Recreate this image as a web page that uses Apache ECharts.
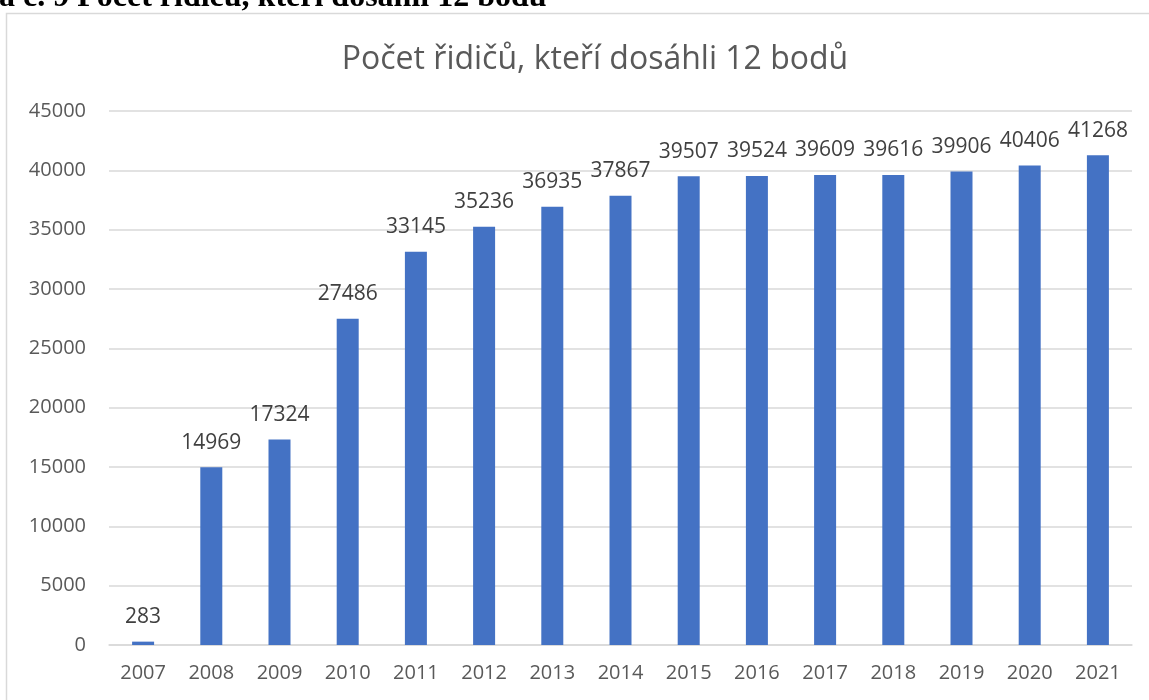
<!DOCTYPE html>
<html><head><meta charset="utf-8">
<script src="https://cdn.jsdelivr.net/npm/echarts@6/dist/echarts.min.js"></script>
<style>html,body{margin:0;padding:0;background:#fff;overflow:hidden}#c{width:1149px;height:700px}</style>
</head><body><div id="c"></div>
<script>
const years = ['2007','2008','2009','2010','2011','2012','2013','2014','2015','2016','2017','2018','2019','2020','2021'];
const drivers = [283,14969,17324,27486,33145,35236,36935,37867,39507,39524,39609,39616,39906,40406,41268];
const titleText = 'Počet řidičů, kteří dosáhli 12 bodů';
const headerText = 'a č. 9 Počet řidičů, kteří dosáhli 12 bodů';

const chart = echarts.init(document.getElementById('c'));
chart.setOption({
  animation: false,
  title: { text: titleText, left: 590, top: 39, textAlign: 'center',
    textStyle: { fontFamily: 'Open Sans', fontSize: 32, fontWeight: 'normal', color: '#595959' } },
  graphic: [
    { type: 'rect', shape: { x: 6.5, y: 13.5, width: 1200, height: 720 }, style: { fill: 'none', stroke: '#d9d9d9', lineWidth: 1.5 }, z: -1 },
    { type: 'text', x: -1, y: -2, style: { text: headerText, fontFamily: 'Liberation Serif', fontWeight: 'bold', fontSize: 32, fill: '#000', verticalAlign: 'middle' } }
  ],
  grid: { left: 109, right: 17, top: 111, bottom: 55, containLabel: false },
  xAxis: { type: 'category', data: years,
    axisLine: { lineStyle: { color: '#d9d9d9', width: 1.5 } }, axisTick: { show: false },
    axisLabel: { fontFamily: 'Open Sans', fontSize: 20, color: '#595959', margin: 18 } },
  yAxis: { type: 'value', min: 0, max: 45000, interval: 5000,
    axisLine: { show: false }, axisTick: { show: false },
    splitLine: { lineStyle: { color: '#d9d9d9', width: 1.5 } },
    axisLabel: { fontFamily: 'Open Sans', fontSize: 20, color: '#595959', margin: 23, formatter: v => String(v) } },
  series: [{ type: 'bar', data: drivers, barWidth: 22,
    itemStyle: { color: '#4472c4' },
    label: { show: true, position: 'top', distance: 14, fontFamily: 'Open Sans', fontSize: 21, color: '#404040' } }]
});
</script></body></html>
